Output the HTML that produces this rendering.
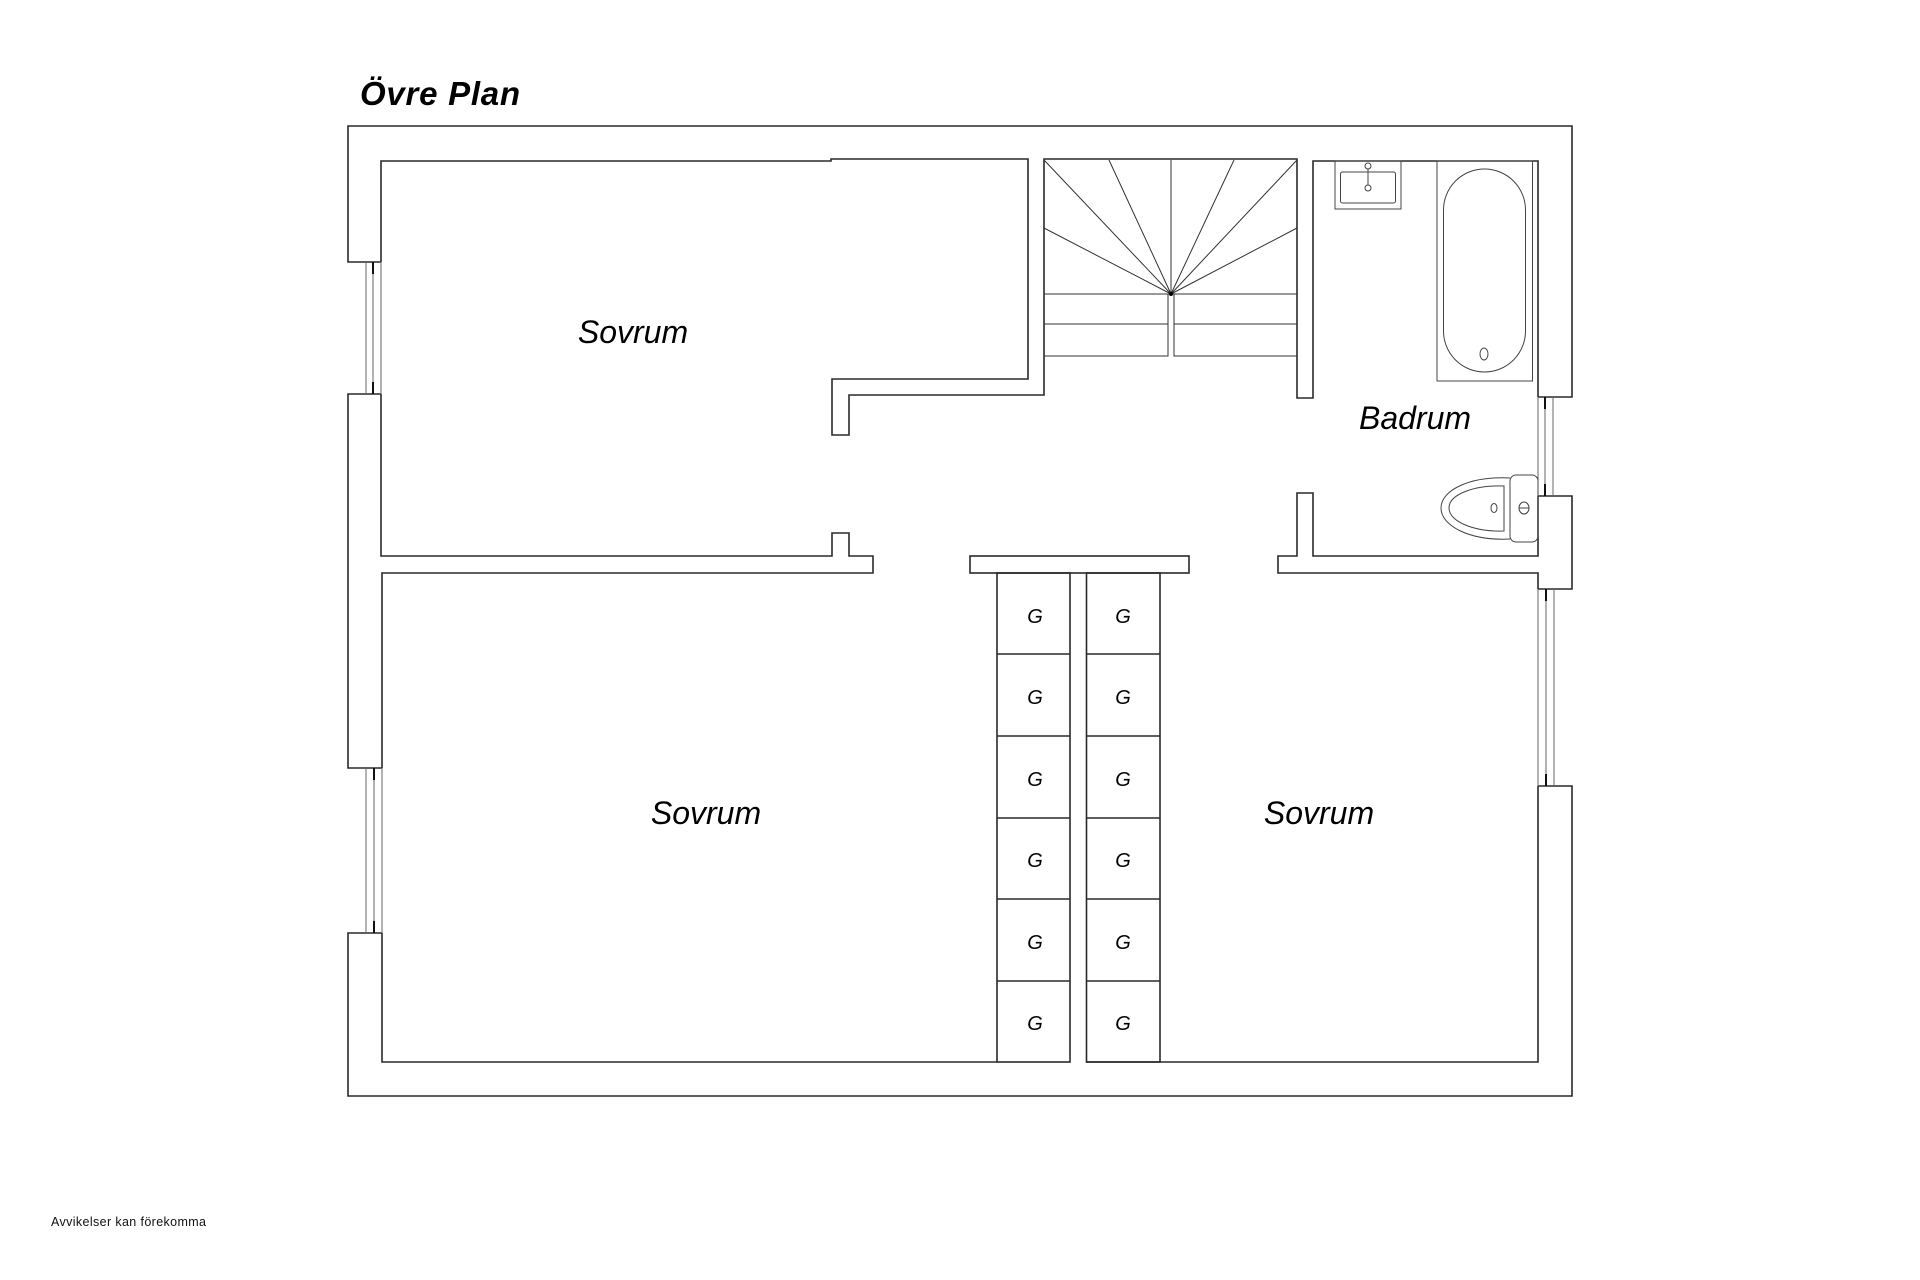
<!DOCTYPE html>
<html><head><meta charset="utf-8"><style>
html,body{margin:0;padding:0;background:#fff;}
svg{display:block;}
</style></head><body>
<svg width="1920" height="1280" viewBox="0 0 1920 1280" xmlns="http://www.w3.org/2000/svg">
<rect width="1920" height="1280" fill="#fff"/>
<text x="360" y="105" font-family="Liberation Sans, sans-serif" font-size="33" font-weight="bold" font-style="italic" fill="#000" textLength="160">Övre Plan</text>
<g fill="none" stroke="#2a2a2a" stroke-width="1.6">
<path d="M381 262 H348 V126 H1572 V397 H1538"/>
<path d="M1538 496 H1572 V589 H1538"/>
<path d="M1538 786 H1572 V1096 H348 V933 H382"/>
<path d="M382 768 H348 V394 H381"/>
<path d="M381 262 V161 H831 V159 H1028 V379 H832 V435 H849 V395 H1044 V159 H1297 V398 H1313 V161 H1538 V397"/>
<path d="M381 394 V556 H832 V533 H849 V556 H873 V573 H382 V768"/>
<path d="M382 933 V1062 H997"/>
<rect x="997" y="573" width="73" height="489"/>
<rect x="1086.5" y="573" width="73.5" height="489"/>
<path d="M997 654 H1070 M997 736 H1070 M997 818 H1070 M997 899 H1070 M997 981 H1070"/>
<path d="M1086 654 H1160 M1086 736 H1160 M1086 818 H1160 M1086 899 H1160 M1086 981 H1160"/>
<rect x="970" y="556" width="219" height="17"/>
<path d="M1086 1062 H1538 V786"/>
<path d="M1538 589 V573 H1278 V556 H1297 V493 H1313 V556 H1538 V496"/>
</g>
<g stroke="#666" stroke-width="1">
<path d="M366 262 V394 M373 262 V394 M381 262 V394"/>
<path d="M366 768 V933 M374 768 V933 M382 768 V933"/>
<path d="M1545 397 V496 M1553 397 V496 M1538 397 V496"/>
<path d="M1546 589 V786 M1554 589 V786 M1538 589 V786"/>
</g>
<g stroke="#111" stroke-width="2">
<path d="M373 262 V274 M373 382 V394"/>
<path d="M374 768 V780 M374 921 V933"/>
<path d="M1545 397 V409 M1545 484 V496"/>
<path d="M1546 589 V601 M1546 774 V786"/>
</g>
<g fill="none" stroke="#333" stroke-width="1">
<path d="M1044 294 H1297 M1044 324 H1168 M1174 324 H1297"/>
<path d="M1044 356 H1168 V294 M1174 294 V356 H1297"/>
<path d="M1171 294 L1044 160 M1171 294 L1109 160 M1171 294 V160 M1171 294 L1234 160 M1171 294 L1297 160 M1171 294 L1044 228 M1171 294 L1297 228"/>
</g>
<circle cx="1171" cy="294" r="2" fill="#000"/>
<g fill="none" stroke="#444" stroke-width="1">
<rect x="1335" y="161" width="66" height="48"/>
<rect x="1340.5" y="172" width="55" height="31" rx="2"/>
<circle cx="1368" cy="166" r="3"/>
<circle cx="1368" cy="188" r="3"/>
<path d="M1368 169 V185"/>
<rect x="1437" y="161" width="95.5" height="220"/>
<rect x="1443.5" y="169" width="82" height="203" rx="41" ry="41"/>
<ellipse cx="1484" cy="354" rx="4" ry="6"/>
<path d="M1532.5 161 V381"/>
<rect x="1510" y="475" width="28" height="67" rx="6"/>
<path d="M1510 478 C1470 476 1441 490 1441 508 C1441 526 1470 541 1510 539"/>
<path d="M1504 486 L1504 531 C1475 532 1449 522 1449 508 C1449 494 1475 485 1504 486 Z"/>
<ellipse cx="1494" cy="508" rx="3" ry="4.5"/>
<ellipse cx="1524" cy="508" rx="5" ry="6"/>
<path d="M1519 508 H1529"/>
</g>
<g font-family="Liberation Sans, sans-serif" font-style="italic" fill="#000" text-anchor="middle">
<text x="633" y="343" font-size="32">Sovrum</text>
<text x="706" y="824" font-size="32">Sovrum</text>
<text x="1319" y="824" font-size="32">Sovrum</text>
<text x="1415" y="429" font-size="32">Badrum</text>
<g font-size="20">
<text x="1035" y="623">G</text><text x="1123" y="623">G</text>
<text x="1035" y="704">G</text><text x="1123" y="704">G</text>
<text x="1035" y="786">G</text><text x="1123" y="786">G</text>
<text x="1035" y="867">G</text><text x="1123" y="867">G</text>
<text x="1035" y="949">G</text><text x="1123" y="949">G</text>
<text x="1035" y="1030">G</text><text x="1123" y="1030">G</text>
</g>
</g>
<text x="51" y="1226" font-family="Liberation Sans, sans-serif" font-size="12.5" fill="#111" textLength="155">Avvikelser kan förekomma</text>
</svg>
</body></html>
